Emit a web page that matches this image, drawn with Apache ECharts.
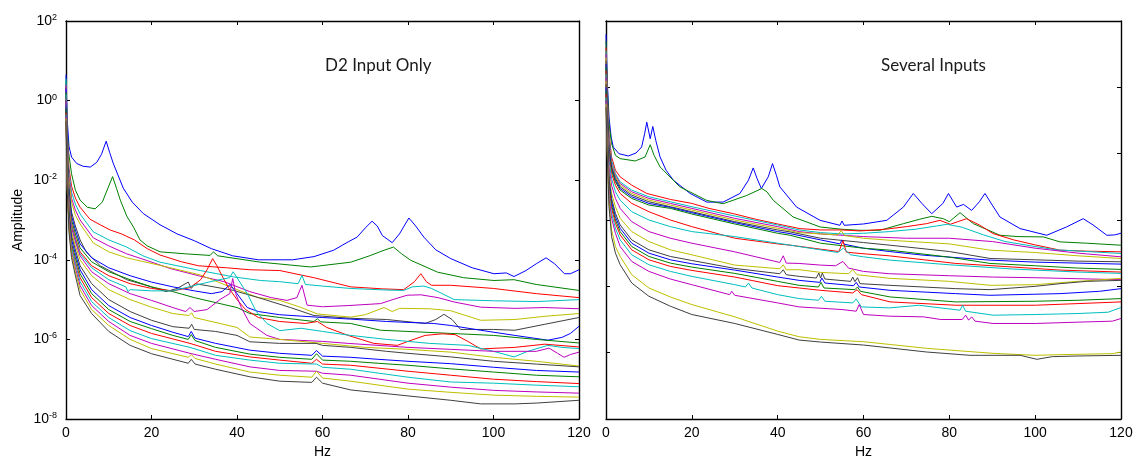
<!DOCTYPE html>
<html><head><meta charset="utf-8">
<script src="https://cdn.jsdelivr.net/npm/echarts@6/dist/echarts.min.js"></script>
<style>html,body{margin:0;padding:0;background:#fff}#c{width:1144px;height:464px}</style>
</head><body><div id="c"></div><script>
// ---- text ----
const leftTitle = 'D2 Input Only';
const rightTitle = 'Several Inputs';
const xName = 'Hz';
const yName = 'Amplitude';
// ---- axes ----
const hzRange = [0, 120];
const hzStep = 20;
const leftExpRange = [-8, 2];   // decades shown on left panel (labels 10^n)
const rightExpRange = [-10, 2]; // decades of right panel (ticks only)
const expStep = 2;
// MATLAB default colour order
const lineColors = ['#0000ff', '#008000', '#ff0000', '#00bfbf', '#bf00bf', '#bfbf00', '#404040'];

// ---- left panel curves: [Hz, log10(amplitude)] ----
const L01 = [[0,0.65],[0.3,-0.5],[0.7,-1.15],[1.3,-1.42],[2.5,-1.58],[4,-1.65],[5.7,-1.67],[7.2,-1.55],[8.3,-1.35],[9.4,-1.02],[10.2,-1.3],[11.1,-1.59],[13.4,-2.2],[15.5,-2.55],[18.1,-2.84],[22,-3.12],[26,-3.35],[30,-3.52],[34,-3.72],[39,-3.9],[45,-4.0],[53,-4.0],[58,-3.92],[62.6,-3.76],[66,-3.55],[68.1,-3.43],[70,-3.2],[71.6,-3.03],[72.8,-3.15],[74,-3.39],[76.3,-3.57],[78,-3.35],[80.2,-2.95],[81.8,-3.15],[83.7,-3.43],[86.5,-3.75],[90,-3.97],[95,-4.2],[100.1,-4.35],[103,-4.33],[104.8,-4.42],[107.6,-4.27],[110,-4.1],[112.3,-3.95],[114.3,-4.1],[116.6,-4.35],[118,-4.35],[120,-4.25]];
const L02 = [[0,0.5],[0.3,-0.7],[0.55,-1.25],[1.3,-1.84],[2.2,-2.25],[3.3,-2.5],[5,-2.68],[6.8,-2.72],[8.5,-2.55],[9.8,-2.2],[10.9,-1.91],[11.8,-2.2],[12.7,-2.5],[14.2,-2.9],[15.8,-3.18],[17.3,-3.5],[19,-3.65],[22,-3.8],[28,-3.85],[33.7,-3.89],[34.5,-3.8],[35.5,-3.9],[45.5,-4.06],[57.2,-4.18],[66.6,-4.06],[71,-3.9],[74.4,-3.76],[76.6,-3.68],[78.5,-3.85],[80.6,-4.01],[86.9,-4.31],[93,-4.45],[100.1,-4.52],[104.8,-4.5],[110,-4.62],[120,-4.77]];
const L03 = [[0,0.35],[0.3,-0.9],[0.7,-1.7],[1.3,-2.15],[2.2,-2.45],[3.3,-2.68],[5.6,-2.98],[8,-3.12],[10.3,-3.25],[13,-3.35],[16,-3.5],[19,-3.72],[22,-3.88],[27,-4.05],[31,-4.15],[37.5,-4.2],[43,-4.25],[50,-4.27],[58,-4.45],[66.6,-4.68],[74,-4.73],[79,-4.75],[81.5,-4.55],[83,-4.35],[84.3,-4.55],[85.5,-4.64],[90,-4.64],[100,-4.72],[110,-4.85],[120,-4.95]];
const L04 = [[0,0.55],[0.3,-1.0],[0.7,-1.8],[1.3,-2.3],[2.2,-2.6],[3.3,-2.85],[6.4,-3.3],[10,-3.5],[14.2,-3.68],[18,-3.9],[22,-4.06],[31.4,-4.27],[39.2,-4.43],[45.5,-4.52],[50,-4.55],[54.3,-4.6],[55.2,-4.39],[56,-4.62],[60,-4.66],[66.6,-4.72],[75,-4.76],[79,-4.77],[81,-4.68],[83.7,-4.66],[85.5,-4.72],[88,-4.85],[90.8,-5.0],[100,-5.03],[110,-5.05],[120,-5.0]];
const L05 = [[0,0.4],[0.3,-1.1],[0.7,-1.9],[1.3,-2.45],[2.2,-2.75],[3.3,-3.0],[6.4,-3.45],[10,-3.65],[14.2,-3.85],[19,-4.02],[24.4,-4.22],[31,-4.4],[37,-4.55],[43,-4.8],[48,-4.95],[51.7,-5.02],[54,-4.95],[55.2,-4.64],[56.4,-5.14],[60,-5.18],[66,-5.15],[73.6,-5.1],[77,-4.98],[79.8,-4.89],[83,-4.88],[87,-4.95],[90.8,-5.06],[97,-5.19],[105,-5.22],[112,-5.2],[120,-5.23]];
const L06 = [[0,0.2],[0.3,-1.2],[0.7,-2.0],[1.3,-2.55],[2.2,-2.88],[3.3,-3.1],[6.4,-3.58],[10,-3.8],[14.2,-3.95],[22,-4.14],[31.4,-4.38],[40,-4.75],[45,-4.95],[50,-5.02],[54.8,-5.19],[58.8,-5.36],[66.6,-5.44],[70,-5.38],[74.4,-5.2],[76.3,-5.3],[78,-5.22],[85,-5.23],[90,-5.28],[97,-5.52],[105,-5.5],[112,-5.42],[120,-5.35]];
const L07 = [[0,0.1],[0.3,-1.3],[0.7,-2.2],[1.3,-2.8],[2.2,-3.15],[3.3,-3.5],[4.7,-3.8],[8,-4.15],[14.2,-4.5],[19,-4.65],[23.4,-4.8],[26,-4.72],[28.6,-4.56],[29.3,-4.72],[30.2,-4.6],[33,-4.65],[39.2,-4.77],[45,-4.95],[52.5,-5.2],[58,-5.4],[66.6,-5.47],[75,-5.5],[84,-5.6],[86.5,-5.5],[88.4,-5.37],[90.3,-5.5],[92.3,-5.75],[100,-5.75],[105,-5.77],[112,-5.62],[120,-5.45]];
const L08 = [[0,0.3],[0.3,-1.4],[0.7,-2.3],[1.3,-2.9],[2.2,-3.25],[3.3,-3.6],[6,-3.95],[10,-4.2],[15,-4.4],[20,-4.56],[25,-4.68],[30,-4.78],[34,-4.85],[36.5,-4.8],[38.4,-4.62],[40,-4.85],[42.4,-5.2],[45,-5.3],[50,-5.38],[60,-5.45],[66.6,-5.49],[75,-5.55],[86,-5.6],[90,-5.65],[97,-5.77],[105,-5.9],[112.7,-6.02],[116,-5.95],[118,-5.85],[120,-5.67]];
const L09 = [[0,0.2],[0.3,-1.5],[0.7,-2.4],[1.3,-3.0],[2.2,-3.35],[3.3,-3.7],[6,-4.05],[10,-4.3],[15,-4.5],[20,-4.68],[25,-4.8],[30,-4.95],[40,-5.2],[43,-5.35],[50,-5.45],[58,-5.55],[58.8,-5.48],[59.6,-5.56],[66.6,-5.6],[73.6,-5.77],[80,-5.8],[90,-5.85],[100,-5.9],[110,-6.0],[120,-6.09]];
const L10 = [[0,0.1],[0.3,-1.6],[0.7,-2.5],[1.3,-3.1],[2.2,-3.45],[3.3,-3.8],[6,-4.15],[10,-4.4],[15,-4.6],[20,-4.72],[25,-4.78],[29,-4.7],[31.5,-4.5],[33,-4.25],[34.3,-3.97],[35.3,-4.15],[36.5,-4.4],[38,-4.7],[40,-5.0],[42,-5.25],[45,-5.45],[50,-5.55],[56,-5.6],[58.8,-5.55],[61,-5.7],[66,-5.9],[72,-6.1],[77.5,-6.15],[80,-6.05],[84,-5.9],[88,-5.86],[91,-5.88],[94,-6.05],[97,-6.24],[105,-6.2],[112,-6.12],[120,-6.19]];
const L11 = [[0,0.15],[0.3,-1.6],[0.7,-2.55],[1.3,-3.15],[2.2,-3.5],[3.3,-3.85],[6,-4.2],[10,-4.5],[14,-4.68],[14.5,-4.8],[15,-4.75],[20,-4.78],[25,-4.78],[31,-4.62],[35,-4.52],[38.3,-4.45],[39.1,-4.3],[40,-4.45],[42.4,-4.85],[44.5,-5.3],[47,-5.6],[50,-5.78],[55,-5.72],[60,-5.8],[66.6,-5.9],[75,-6.0],[85,-6.1],[94,-6.15],[100,-6.3],[104.8,-6.44],[108,-6.3],[112.7,-6.15],[116,-6.2],[120,-6.23]];
const L12 = [[0,0.0],[0.3,-1.7],[0.7,-2.6],[1.3,-3.2],[2.2,-3.55],[3.3,-3.9],[6,-4.3],[10,-4.6],[15,-4.85],[20,-5.02],[25,-5.2],[28,-5.3],[29,-5.2],[30,-5.3],[33,-5.25],[36,-5.0],[38.3,-4.85],[39,-4.47],[39.7,-4.85],[41,-5.2],[43,-5.6],[47,-5.9],[50,-6.0],[60,-6.05],[66,-6.1],[80,-6.2],[90,-6.25],[100,-6.3],[110,-6.3],[113,-6.22],[115,-6.35],[116.5,-6.45],[118,-6.38],[120,-6.32]];
const L13 = [[0,-0.1],[0.3,-1.8],[0.7,-2.7],[1.3,-3.3],[2.2,-3.65],[3.3,-4.0],[6,-4.4],[10,-4.75],[15,-5.0],[20,-5.19],[25,-5.35],[28.8,-5.4],[29.4,-5.33],[30,-5.45],[40,-5.7],[43,-5.94],[50,-6.0],[60,-6.1],[70,-6.2],[80,-6.25],[90,-6.32],[100,-6.45],[110,-6.55],[120,-6.67]];
const L14 = [[0,-0.2],[0.3,-1.9],[0.7,-2.8],[1.3,-3.4],[2.2,-3.75],[3.3,-4.15],[6,-4.6],[10,-5.0],[15,-5.3],[20,-5.52],[25,-5.68],[28.8,-5.72],[29.4,-5.62],[30,-5.75],[35,-5.8],[40,-5.9],[43,-6.06],[50,-6.1],[58.5,-6.1],[60,-6.15],[66.6,-6.2],[75,-6.3],[80,-6.35],[90,-6.44],[100,-6.55],[110,-6.62],[120,-6.69]];
const L15 = [[0,-0.1],[0.3,-2.0],[0.7,-2.9],[1.3,-3.5],[2.2,-3.85],[3.3,-4.25],[6,-4.75],[10,-5.15],[15,-5.45],[20,-5.65],[25,-5.82],[28.6,-5.93],[29.3,-5.8],[30.2,-5.97],[35,-6.1],[43,-6.27],[50,-6.35],[57.5,-6.4],[58.6,-6.28],[60,-6.42],[66.6,-6.45],[73,-6.5],[80,-6.55],[90,-6.61],[100,-6.7],[110,-6.78],[120,-6.82]];
const L16 = [[0,-0.2],[0.3,-2.05],[0.7,-3.0],[1.3,-3.6],[2.2,-3.95],[3.3,-4.35],[6,-4.85],[10,-5.25],[15,-5.55],[20,-5.73],[25,-5.9],[28.6,-6.0],[29.3,-5.88],[30.2,-6.03],[35,-6.2],[43,-6.37],[50,-6.45],[57.5,-6.5],[58.6,-6.36],[60,-6.52],[66.6,-6.55],[73,-6.6],[80,-6.65],[90,-6.74],[100,-6.82],[110,-6.9],[120,-6.94]];
const L17 = [[0,-0.3],[0.3,-2.1],[0.7,-3.05],[1.3,-3.65],[2.2,-4.05],[3.3,-4.45],[6,-4.95],[10,-5.35],[15,-5.65],[20,-5.85],[29,-6.1],[35,-6.3],[43,-6.44],[50,-6.52],[57.5,-6.6],[58.6,-6.5],[60,-6.62],[66.6,-6.65],[80,-6.8],[90,-6.9],[100,-7.0],[110,-7.06],[120,-7.11]];
const L18 = [[0,-0.35],[0.3,-2.15],[0.7,-3.1],[1.3,-3.7],[2.2,-4.1],[3.3,-4.55],[6,-5.05],[10,-5.45],[15,-5.78],[20,-5.98],[29,-6.2],[35,-6.4],[43,-6.52],[50,-6.6],[58.6,-6.62],[60,-6.7],[66.6,-6.75],[80,-6.95],[90,-7.07],[100,-7.1],[110,-7.15],[120,-7.19]];
const L19 = [[0,-0.4],[0.3,-2.2],[0.7,-3.15],[1.3,-3.8],[2.2,-4.2],[3.3,-4.65],[6,-5.15],[10,-5.55],[15,-5.9],[20,-6.1],[29,-6.35],[35,-6.5],[43,-6.69],[50,-6.78],[58.6,-6.8],[60,-6.85],[66.6,-6.9],[80,-7.1],[90,-7.2],[100,-7.28],[110,-7.32],[120,-7.35]];
const L20 = [[0,-0.45],[0.3,-2.25],[0.7,-3.2],[1.3,-3.85],[2.2,-4.3],[3.3,-4.75],[6,-5.25],[10,-5.65],[15,-6.0],[20,-6.23],[28.6,-6.45],[29.3,-6.38],[30.2,-6.48],[35,-6.62],[43,-6.82],[50,-6.9],[57.5,-6.95],[58.6,-6.8],[60,-6.97],[66.6,-7.05],[80,-7.25],[90,-7.33],[100,-7.4],[110,-7.43],[120,-7.45]];
const L21 = [[0,-0.5],[0.3,-2.3],[0.7,-3.3],[1.3,-3.95],[2.2,-4.4],[3.3,-4.9],[6,-5.35],[10,-5.8],[15,-6.15],[20,-6.36],[28.6,-6.6],[29.3,-6.5],[30.2,-6.62],[35,-6.75],[43,-6.94],[50,-7.05],[57.5,-7.08],[58.6,-6.95],[60,-7.1],[66.6,-7.27],[80,-7.42],[90,-7.53],[97,-7.62],[105,-7.62],[110,-7.6],[120,-7.53]];

// ---- right panel curves: [Hz, log10(amplitude)] ----
const R01 = [[0,1.6],[0.3,0.2],[0.7,-0.9],[1.2,-1.5],[1.7,-1.8],[3,-2.0],[5.2,-2.07],[7,-1.98],[8.3,-1.8],[9,-1.4],[9.5,-1.05],[10.3,-1.55],[10.9,-1.18],[11.6,-1.6],[12.6,-2.1],[14,-2.5],[15.7,-2.8],[19.6,-3.2],[23.5,-3.46],[27.3,-3.46],[31.2,-3.2],[33.2,-2.8],[34.3,-2.43],[35.2,-2.75],[36.2,-3.05],[37.8,-2.7],[38.8,-2.3],[39.7,-2.65],[40.5,-3.0],[44.4,-3.61],[49.9,-4.01],[54.5,-4.16],[55,-4.03],[55.5,-4.16],[60,-4.12],[65.4,-4.01],[69.3,-3.61],[71.6,-3.2],[73.6,-3.5],[75.9,-3.81],[78.5,-3.5],[79.8,-3.2],[81.7,-3.61],[83.3,-3.53],[85.2,-3.71],[87,-3.45],[88.3,-3.2],[90,-3.55],[91.8,-3.91],[96.5,-4.26],[102.7,-4.46],[107.3,-4.21],[111.2,-3.96],[113.5,-4.15],[116.7,-4.46],[118.5,-4.45],[120,-4.4]];
const R02 = [[0,1.4],[0.3,0.0],[0.7,-1.1],[1.3,-1.7],[2.2,-2.05],[3.3,-2.15],[6.8,-2.22],[9.1,-2.1],[10.3,-1.73],[11.2,-2.05],[12.6,-2.4],[17.2,-3.0],[23.5,-3.41],[27.3,-3.51],[32.8,-3.26],[36.3,-3.05],[37.5,-3.15],[39,-3.41],[43.6,-3.91],[49.9,-4.21],[55,-4.28],[59.2,-4.31],[63.8,-4.31],[69.3,-4.11],[73,-3.98],[75.9,-3.89],[78.6,-3.96],[80,-4.05],[82.5,-3.78],[85.6,-4.11],[91.8,-4.46],[96,-4.5],[101.9,-4.51],[105.8,-4.66],[112,-4.7],[120,-4.76]];
const R03 = [[0,1.2],[0.3,-0.3],[0.7,-1.4],[1.3,-2.1],[2.2,-2.5],[3.3,-2.7],[6,-2.95],[9.5,-3.2],[15,-3.38],[20,-3.5],[24,-3.65],[29.7,-3.81],[35,-3.98],[40,-4.12],[45.2,-4.26],[50,-4.3],[55,-4.3],[59.2,-4.33],[65,-4.28],[70,-4.2],[74.7,-4.11],[77.8,-4.01],[80.2,-4.13],[82,-4.05],[84,-3.96],[87,-4.15],[90.2,-4.41],[95,-4.6],[100,-4.75],[105.8,-4.91],[112,-4.94],[120,-4.96]];
const R04 = [[0,1.1],[0.3,-0.4],[0.7,-1.5],[1.3,-2.2],[2.2,-2.6],[3.3,-2.85],[6,-3.1],[10,-3.3],[15,-3.45],[20,-3.6],[30,-3.88],[40,-4.15],[45,-4.3],[50,-4.38],[55,-4.42],[60,-4.4],[66,-4.35],[72,-4.28],[77,-4.18],[79.5,-4.13],[83,-4.22],[88,-4.45],[93,-4.65],[100,-4.8],[105,-4.9],[112,-4.95],[120,-5.01]];
const R05 = [[0,1.0],[0.3,-0.5],[0.7,-1.6],[1.3,-2.3],[2.2,-2.65],[3.3,-2.9],[6,-3.15],[10,-3.35],[15,-3.5],[20,-3.65],[30,-3.95],[40,-4.2],[45,-4.35],[50,-4.42],[60,-4.5],[70,-4.55],[80,-4.55],[90,-4.65],[100,-4.85],[110,-5.0],[120,-5.11]];
const R06 = [[0,0.9],[0.3,-0.6],[0.7,-1.7],[1.3,-2.35],[2.2,-2.7],[3.3,-2.95],[6,-3.2],[10,-3.4],[15,-3.55],[20,-3.7],[30,-4.0],[40,-4.25],[45,-4.38],[50,-4.42],[54,-4.45],[54.8,-4.32],[55.6,-4.47],[60,-4.55],[66,-4.61],[80,-4.72],[89.5,-4.91],[100,-4.98],[110,-5.08],[120,-5.16]];
const R07 = [[0,0.8],[0.3,-0.7],[0.7,-1.8],[1.3,-2.4],[2.2,-2.75],[3.3,-3.0],[6,-3.25],[10,-3.45],[15,-3.6],[20,-3.75],[30,-4.05],[40,-4.3],[42.9,-4.36],[50,-4.55],[60,-4.68],[66.2,-4.76],[80,-4.95],[89.5,-5.16],[100,-5.2],[110,-5.24],[120,-5.26]];
const R08 = [[0,0.7],[0.3,-0.8],[0.7,-1.9],[1.3,-2.45],[2.2,-2.8],[3.3,-3.05],[6,-3.3],[10,-3.5],[15,-3.62],[20,-3.78],[30,-4.08],[40,-4.35],[42.9,-4.41],[50,-4.6],[54.5,-4.72],[55,-4.6],[55.5,-4.73],[60,-4.85],[66,-4.95],[73.9,-5.06],[89.5,-5.21],[100,-5.27],[110,-5.3],[120,-5.33]];
const R09 = [[0,0.6],[0.3,-0.9],[0.7,-2.0],[1.3,-2.5],[2.2,-2.85],[3.3,-3.1],[6,-3.35],[10,-3.55],[15,-3.65],[20,-3.82],[30,-4.12],[40,-4.4],[42.9,-4.46],[50,-4.7],[60,-4.85],[66.2,-4.91],[80,-5.12],[89.5,-5.31],[100,-5.38],[110,-5.45],[120,-5.49]];
const R10 = [[0,0.5],[0.3,-1.0],[0.7,-2.1],[1.3,-2.6],[2.2,-2.95],[3.3,-3.2],[6,-3.5],[10,-3.75],[15,-4.0],[20,-4.2],[30,-4.55],[40,-4.72],[43,-4.76],[50,-4.88],[54.3,-4.95],[55.2,-4.62],[56,-4.97],[59.2,-5.01],[66,-5.08],[81.5,-5.31],[95,-5.42],[105.8,-5.51],[120,-5.57]];
const R11 = [[0,0.4],[0.3,-1.1],[0.7,-2.2],[1.3,-2.75],[2.2,-3.15],[3.3,-3.4],[6,-3.75],[10,-4.0],[15,-4.2],[20,-4.35],[30,-4.5],[40,-4.7],[45,-4.8],[50,-4.9],[54,-4.98],[55.3,-4.85],[57,-5.05],[60,-5.11],[66.2,-5.21],[80,-5.35],[95,-5.48],[110,-5.57],[120,-5.61]];
const R12 = [[0,0.3],[0.3,-1.2],[0.7,-2.4],[1.3,-2.95],[2.2,-3.35],[3.3,-3.65],[6,-4.05],[10,-4.35],[15,-4.55],[20,-4.7],[30,-4.96],[40.5,-5.28],[41.3,-5.08],[42,-5.3],[45,-5.31],[50,-5.36],[53.5,-5.38],[55.2,-5.25],[56.5,-5.45],[60,-5.55],[66,-5.62],[80,-5.68],[90,-5.72],[100,-5.74],[110,-5.77],[120,-5.8]];
const R13 = [[0,0.2],[0.3,-1.3],[0.7,-2.6],[1.3,-3.2],[2.2,-3.6],[3.3,-3.95],[6,-4.35],[10,-4.65],[15,-4.9],[20,-5.05],[30,-5.36],[40.5,-5.47],[41.3,-5.35],[42,-5.5],[45.2,-5.5],[50,-5.58],[56.5,-5.62],[57.5,-5.5],[58.5,-5.65],[66.2,-5.76],[80,-5.85],[89.5,-5.97],[100,-5.95],[110,-5.85],[120,-5.76]];
const R14 = [[0,0.1],[0.3,-1.4],[0.7,-2.75],[1.3,-3.35],[2.2,-3.8],[3.3,-4.15],[6,-4.6],[10,-4.9],[15,-5.1],[20,-5.22],[30,-5.46],[40.5,-5.62],[41.3,-5.5],[42,-5.65],[45,-5.7],[49,-5.75],[49.6,-5.6],[50,-5.75],[50.4,-5.6],[51,-5.78],[57,-5.85],[57.5,-5.72],[58,-5.86],[58.6,-5.74],[59.2,-5.92],[66.2,-5.97],[81.5,-6.07],[89.5,-6.1],[100,-6.0],[105.8,-5.92],[112,-5.85],[120,-5.82]];
const R15 = [[0,0.0],[0.3,-1.5],[0.7,-2.85],[1.3,-3.45],[2.2,-3.9],[3.3,-4.25],[6,-4.7],[10,-5.0],[15,-5.2],[20,-5.32],[30,-5.51],[40,-5.72],[45,-5.82],[49.8,-5.88],[50.3,-5.75],[51,-5.9],[57.7,-5.98],[58.3,-5.88],[59,-6.02],[66.2,-6.12],[81.5,-6.22],[89.5,-6.27],[105.8,-6.22],[115,-6.15],[120,-6.07]];
const R16 = [[0,-0.1],[0.3,-1.6],[0.7,-2.95],[1.3,-3.55],[2.2,-4.0],[3.3,-4.35],[6,-4.8],[10,-5.1],[15,-5.3],[20,-5.42],[30,-5.61],[40,-5.85],[45,-5.97],[49.5,-6.02],[50.1,-5.88],[50.8,-6.05],[58,-6.1],[58.6,-6.02],[59.3,-6.15],[66.2,-6.32],[81.5,-6.47],[100,-6.45],[110,-6.42],[120,-6.37]];
const R17 = [[0,-0.2],[0.3,-1.7],[0.7,-3.05],[1.3,-3.65],[2.2,-4.1],[3.3,-4.45],[6,-4.9],[10,-5.2],[15,-5.4],[20,-5.52],[30,-5.72],[40,-5.98],[45,-6.05],[50,-6.12],[57.5,-6.2],[58.5,-6.1],[59.5,-6.25],[66.2,-6.47],[81.5,-6.57],[100,-6.57],[110,-6.52],[120,-6.47]];
const R18 = [[0,-0.3],[0.3,-1.8],[0.7,-3.2],[1.3,-3.8],[2.2,-4.25],[3.3,-4.6],[6,-5.05],[10,-5.35],[15,-5.55],[20,-5.7],[30,-5.95],[32.5,-6.02],[33.2,-5.9],[34,-6.05],[40,-6.25],[45,-6.37],[49.5,-6.42],[50.2,-6.3],[51,-6.45],[57.5,-6.5],[58.3,-6.38],[59.5,-6.62],[66,-6.65],[73,-6.57],[76,-6.62],[82.5,-6.72],[83.1,-6.57],[83.8,-6.75],[90.2,-6.87],[100,-6.85],[110,-6.82],[117,-6.78],[120,-6.64]];
const R19 = [[0,-0.4],[0.3,-1.9],[0.7,-3.35],[1.3,-3.95],[2.2,-4.4],[3.3,-4.8],[6,-5.25],[10,-5.55],[15,-5.78],[20,-5.95],[28.8,-6.25],[29.3,-6.15],[30,-6.27],[40,-6.5],[45,-6.62],[55,-6.7],[58.3,-6.75],[59,-6.55],[60,-6.85],[66,-6.9],[74,-6.92],[78,-7.0],[83,-7.0],[83.8,-6.87],[84.5,-7.02],[85.2,-6.92],[86,-7.05],[90.2,-7.12],[100,-7.12],[110,-7.08],[118,-7.05],[120,-6.97]];
const R20 = [[0,-0.5],[0.3,-2.0],[0.7,-3.5],[1.3,-4.3],[2.2,-4.8],[3.3,-5.1],[6,-5.65],[10,-6.05],[15,-6.32],[20,-6.55],[30,-6.92],[40,-7.35],[45,-7.52],[50,-7.6],[60,-7.67],[66,-7.75],[74.7,-7.87],[90.2,-8.02],[100,-8.08],[105.8,-8.06],[110,-8.05],[118,-8.03],[120,-7.98]];
const R21 = [[0,-0.6],[0.3,-2.1],[0.7,-3.6],[1.3,-4.5],[2.2,-5.0],[3.3,-5.35],[6,-5.9],[10,-6.3],[15,-6.6],[20,-6.85],[30,-7.12],[40,-7.45],[45,-7.62],[50,-7.68],[60,-7.77],[74.7,-7.98],[84.8,-8.08],[96.5,-8.08],[100.4,-8.2],[104,-8.12],[110,-8.1],[120,-8.08]];

const leftCurves = [L01,L02,L03,L04,L05,L06,L07,L08,L09,L10,L11,L12,L13,L14,L15,L16,L17,L18,L19,L20,L21];
const rightCurves = [R01,R02,R03,R04,R05,R06,R07,R08,R09,R10,R11,R12,R13,R14,R15,R16,R17,R18,R19,R20,R21];

// ---- chart ----
const FONT = '"Liberation Sans", Arial, sans-serif';
const axisLine = {show: true, onZero: false, lineStyle: {color: '#000', width: 1.4}};
const tick = {show: true, inside: true, length: 4, lineStyle: {color: '#000', width: 1}};

function xAxisDef(grid, position, labels, name) {
  return {
    type: 'value', gridIndex: grid, position: position,
    min: hzRange[0], max: hzRange[1], interval: hzStep,
    axisLine: axisLine, axisTick: tick, splitLine: {show: false},
    axisLabel: {show: labels, color: '#000', fontSize: 14, fontFamily: FONT, margin: 7},
    name: name || '', nameLocation: 'middle', nameGap: 25,
    nameTextStyle: {color: '#000', fontSize: 14, fontFamily: FONT}
  };
}
function expAxisDef(grid, position, range, labels, name) {
  return {
    type: 'value', gridIndex: grid, position: position,
    min: range[0], max: range[1], interval: expStep,
    axisLine: axisLine, axisTick: tick, splitLine: {show: false},
    axisLabel: {
      show: labels, margin: 9,
      formatter: v => '{b|10}{s|' + v + '}',
      rich: {
        b: {fontSize: 14, fontFamily: FONT, color: '#000', lineHeight: 16},
        s: {fontSize: 9, fontFamily: FONT, color: '#000', lineHeight: 9, verticalAlign: 'top'}
      }
    },
    name: name || '', nameLocation: 'middle', nameGap: 41, nameRotate: 90,
    nameTextStyle: {color: '#000', fontSize: 14, fontFamily: FONT}
  };
}
function logAxisDef(grid, range) {
  return {type: 'log', logBase: 10, gridIndex: grid, show: false,
    min: Math.pow(10, range[0]), max: Math.pow(10, range[1])};
}

const series = [];
function addCurves(curves, xIdx, yIdx) {
  curves.forEach((c, i) => {
    series.push({
      type: 'line', xAxisIndex: xIdx, yAxisIndex: yIdx,
      showSymbol: false, symbol: 'none', silent: true,
      lineStyle: {width: 1, color: lineColors[i % lineColors.length]},
      data: c.map(p => [p[0], Math.pow(10, p[1])])
    });
  });
}
addCurves(leftCurves, 0, 2);
addCurves(rightCurves, 2, 5);

const titleStyle = {fontFamily: 'Lato, sans-serif', fontSize: 17, fontWeight: 'normal', color: '#1a1a1a'};
const option = {
  animation: false,
  backgroundColor: '#fff',
  title: [
    {text: leftTitle, left: 320, top: 52, textStyle: titleStyle},
    {text: rightTitle, left: 876, top: 52, textStyle: titleStyle}
  ],
  grid: [
    {left: 66, top: 21, width: 513, height: 398},
    {left: 606, top: 21, width: 515, height: 398}
  ],
  xAxis: [
    xAxisDef(0, 'bottom', true, xName),
    xAxisDef(0, 'top', false),
    xAxisDef(1, 'bottom', true, xName),
    xAxisDef(1, 'top', false)
  ],
  yAxis: [
    expAxisDef(0, 'left', leftExpRange, true, yName),
    expAxisDef(0, 'right', leftExpRange, false),
    logAxisDef(0, leftExpRange),
    expAxisDef(1, 'left', rightExpRange, false),
    expAxisDef(1, 'right', rightExpRange, false),
    logAxisDef(1, rightExpRange)
  ],
  series: series
};
const chart = echarts.init(document.getElementById('c'), null, {renderer: 'canvas'});
chart.setOption(option);
</script></body></html>
